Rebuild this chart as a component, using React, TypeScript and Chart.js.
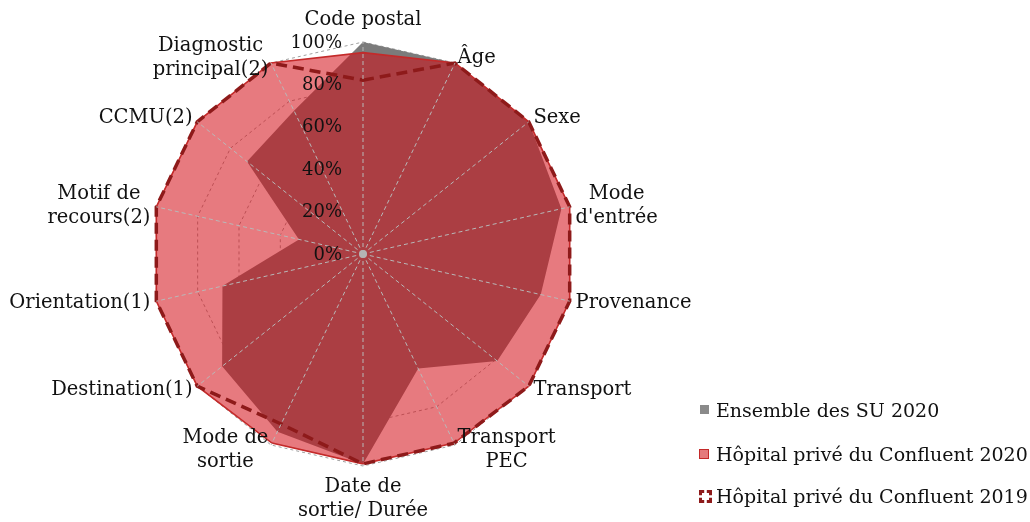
import React, { useEffect, useRef } from 'react';
import { Chart, registerables } from 'chart.js';

Chart.register(...registerables);

const categories = [
  'Code postal', 'Âge', 'Sexe', "Mode d'entrée", 'Provenance', 'Transport', 'Transport PEC',
  'Date de sortie/ Durée', 'Mode de sortie', 'Destination(1)', 'Orientation(1)',
  'Motif de recours(2)', 'CCMU(2)', 'Diagnostic principal(2)',
];
const categoryLines = [
  ['Code postal'], ['Âge'], ['Sexe'], ['Mode', "d'entrée"], ['Provenance'], ['Transport'],
  ['Transport', 'PEC'], ['Date de', 'sortie/ Durée'], ['Mode de', 'sortie'], ['Destination(1)'],
  ['Orientation(1)'], ['Motif de', 'recours(2)'], ['CCMU(2)'], ['Diagnostic', 'principal(2)'],
];
const ensembleSU2020 = [1.0, 1.0, 1.0, 0.96, 0.86, 0.81, 0.6, 0.99, 0.93, 0.85, 0.68, 0.31, 0.7, 0.75];
const confluent2020 = [0.95, 1.0, 1.0, 1.0, 1.0, 1.0, 0.99, 0.99, 0.99, 1.0, 1.0, 1.0, 1.0, 1.0];
const confluent2019 = [0.82, 1.0, 1.0, 1.0, 1.0, 1.0, 0.99, 0.99, 0.89, 1.0, 1.0, 1.0, 1.0, 1.0];
const tickValues = [0, 0.2, 0.4, 0.6, 0.8, 1];
const tickLabels = ['0%', '20%', '40%', '60%', '80%', '100%'];
const seriesNames = ['Ensemble des SU 2020', 'Hôpital privé du Confluent 2020', 'Hôpital privé du Confluent 2019'];

const TICK_FONT = '18px "DejaVu Serif"';
const LABEL_FONT = '19.5px "DejaVu Serif"';
const LEGEND_FONT = '19px "DejaVu Serif"';

const overlayPlugin = {
  id: 'overlay',
  afterDatasetsDraw(chart: any) {
    const scale = chart.scales.r;
    const ctx = chart.ctx;
    const R = scale.drawingArea;
    const cx = scale.xCenter;
    const cy = scale.yCenter;
    ctx.save();
    // angle lines on top
    ctx.strokeStyle = '#b8b8b8';
    ctx.lineWidth = 1;
    ctx.setLineDash([4, 3]);
    for (let i = 0; i < categories.length; i++) {
      const p = scale.getPointPosition(i, R);
      ctx.beginPath();
      ctx.moveTo(cx, cy);
      ctx.lineTo(p.x, p.y);
      ctx.stroke();
    }
    ctx.setLineDash([]);
    ctx.fillStyle = '#b4b4b4';
    ctx.beginPath();
    ctx.arc(cx, cy, 4, 0, Math.PI * 2);
    ctx.fill();

    // tick labels
    ctx.font = TICK_FONT;
    ctx.fillStyle = '#111';
    ctx.textAlign = 'right';
    ctx.textBaseline = 'middle';
    tickValues.forEach((v, k) => {
      const d = scale.getDistanceFromCenterForValue(v);
      ctx.fillText(tickLabels[k], cx - 21, cy - d + 1);
    });

    // point labels
    ctx.font = LABEL_FONT;
    const lh = 24;
    categoryLines.forEach((lines, i) => {
      const p = scale.getPointPosition(i, R + 6);
      const dx = Math.cos(p.angle);
      const dy = Math.sin(p.angle);
      const w = Math.max(...lines.map((l) => ctx.measureText(l).width));
      const h = lines.length * lh;
      let left;
      if (Math.abs(dx) < 0.01) left = p.x - w / 2;
      else if (dx > 0) left = p.x;
      else left = p.x - w;
      let top;
      if (dy < -0.99) top = p.y - 4 - h;
      else if (dy > 0.99) top = p.y + 3;
      else top = p.y - h / 2;
      ctx.textAlign = 'center';
      ctx.textBaseline = 'middle';
      lines.forEach((l, k) => {
        ctx.fillText(l, left + w / 2, top + lh * k + lh / 2);
      });
    });
    ctx.restore();
  },
};

export default function App() {
  const canvasRef = useRef<HTMLCanvasElement | null>(null);

  useEffect(() => {
    if (!canvasRef.current) return;
    const chart = new Chart(canvasRef.current, {
      type: 'radar',
      data: {
        labels: categories,
        datasets: [
          {
            label: seriesNames[0],
            data: ensembleSU2020,
            backgroundColor: '#7b7b7b',
            borderWidth: 0,
            borderColor: 'rgba(0,0,0,0)',
            fill: true,
            pointRadius: 0,
            order: 3,
          },
          {
            label: seriesNames[1],
            data: confluent2020,
            backgroundColor: 'rgba(211,12,22,0.55)',
            borderColor: '#c42a2a',
            borderWidth: 1.6,
            fill: true,
            pointRadius: 0,
            order: 2,
          },
          {
            label: seriesNames[2],
            data: confluent2019,
            backgroundColor: 'rgba(0,0,0,0)',
            borderColor: '#8e1a1a',
            borderWidth: 3.5,
            borderDash: [11, 6],
            fill: false,
            pointRadius: 0,
            order: 1,
          },
        ],
      },
      options: {
        responsive: false,
        animation: false,
        layout: { padding: { left: 151, right: 455, top: 42, bottom: 56 } },
        elements: { line: { tension: 0 } },
        plugins: { legend: { display: false }, tooltip: { enabled: false } },
        scales: {
          r: {
            min: 0,
            max: 1,
            ticks: { display: false, stepSize: 0.2 },
            grid: { color: '#a0a0a0', lineWidth: 1, circular: false },
            border: { dash: [3, 3] },
            angleLines: { display: false },
            pointLabels: { display: false },
          },
        },
      } as any,
      plugins: [overlayPlugin],
    });
    return () => chart.destroy();
  }, []);

  const legendText: React.CSSProperties = {
    position: 'absolute',
    left: 716,
    font: LEGEND_FONT,
    color: '#111',
    whiteSpace: 'nowrap',
    lineHeight: '22px',
  };

  return (
    <div style={{ position: 'fixed', left: 0, top: 0, width: 1030, height: 522, background: '#fff' }}>
      <canvas ref={canvasRef} width={1030} height={522} style={{ width: 1030, height: 522, display: 'block' }} />
      <div style={{ position: 'absolute', left: 700, top: 405, width: 9, height: 9, background: '#8a8a8a' }} />
      <div style={{ ...legendText, top: 399 }}>{seriesNames[0]}</div>
      <div style={{ position: 'absolute', left: 699, top: 449, width: 8, height: 8, background: '#e57a7c', border: '1.5px solid #c42a2a' }} />
      <div style={{ ...legendText, top: 443 }}>{seriesNames[1]}</div>
      <div style={{ position: 'absolute', left: 699, top: 490, width: 7, height: 7, border: '3px dashed #8e1a1a' }} />
      <div style={{ ...legendText, top: 485 }}>{seriesNames[2]}</div>
    </div>
  );
}
